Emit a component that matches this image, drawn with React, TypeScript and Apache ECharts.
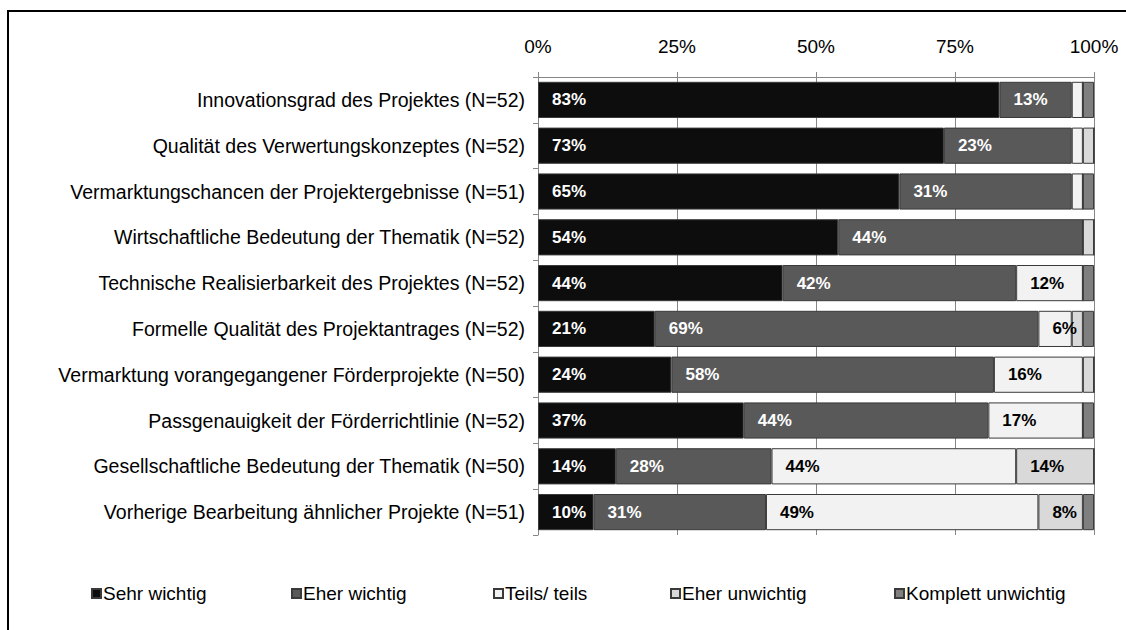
import React, { useEffect, useRef } from "react";
import * as echarts from "echarts";

const categories = [
  "Innovationsgrad des Projektes (N=52)",
  "Qualität des Verwertungskonzeptes (N=52)",
  "Vermarktungschancen der Projektergebnisse (N=51)",
  "Wirtschaftliche Bedeutung der Thematik (N=52)",
  "Technische Realisierbarkeit des Projektes (N=52)",
  "Formelle Qualität des Projektantrages (N=52)",
  "Vermarktung vorangegangener Förderprojekte (N=50)",
  "Passgenauigkeit der Förderrichtlinie (N=52)",
  "Gesellschaftliche Bedeutung der Thematik (N=50)",
  "Vorherige Bearbeitung ähnlicher Projekte (N=51)",
];

const seriesNames = ["Sehr wichtig", "Eher wichtig", "Teils/ teils", "Eher unwichtig", "Komplett unwichtig"];

const sehrWichtig = [83, 73, 65, 54, 44, 21, 24, 37, 14, 10];
const eherWichtig = [13, 23, 31, 44, 42, 69, 58, 44, 28, 31];
const teilsTeils = [2, 2, 2, 0, 12, 6, 16, 17, 44, 49];
const eherUnwichtig = [0, 2, 0, 2, 0, 2, 2, 0, 14, 8];
const komplettUnwichtig = [2, 0, 2, 0, 2, 2, 0, 2, 0, 2];

const xTicks = [0, 25, 50, 75, 100];

const colors = ["#0d0d0d", "#595959", "#f2f2f2", "#d9d9d9", "#7f7f7f"];
const labelColors = ["#ffffff", "#ffffff", "#000000", "#000000", "#ffffff"];

export default function App() {
  const ref = useRef<HTMLDivElement>(null);
  useEffect(() => {
    if (!ref.current) return;
    const chart = echarts.init(ref.current, null, { renderer: "svg" });
    const values = [sehrWichtig, eherWichtig, teilsTeils, eherUnwichtig, komplettUnwichtig];
    const font = "'Liberation Sans', Arial, sans-serif";
    const legendLefts = [86, 286, 488, 665, 889];
    chart.setOption({
      animation: false,
      backgroundColor: "#ffffff",
      textStyle: { fontFamily: font },
      grid: { left: 538, right: 32, top: 77, bottom: 95, containLabel: false },
      legend: seriesNames.map((n, i) => ({
        data: [n],
        left: legendLefts[i],
        top: 579,
        icon: "rect",
        itemWidth: 9,
        itemHeight: 9,
        itemGap: 2,
        textStyle: { fontSize: 19, color: "#000", fontFamily: font, padding: [0, 0, 0, -3] },
      })),
      xAxis: {
        type: "value",
        position: "top",
        min: xTicks[0],
        max: xTicks[xTicks.length - 1],
        interval: 25,
        axisLine: { show: true, lineStyle: { color: "#868686", width: 1 } },
        axisTick: { show: true, length: 5, lineStyle: { color: "#868686" } },
        splitLine: { show: true, lineStyle: { color: "#868686", width: 1 } },
        axisLabel: {
          formatter: (v: number) => v + "%",
          fontSize: 19,
          color: "#000",
          margin: 21,
          fontFamily: font,
        },
      },
      yAxis: {
        type: "category",
        inverse: true,
        data: categories,
        axisLine: { show: true, lineStyle: { color: "#868686", width: 1 } },
        axisTick: { show: true, length: 5, lineStyle: { color: "#868686" } },
        axisLabel: { fontSize: 19.5, color: "#000", margin: 13, fontFamily: font },
      },
      series: seriesNames.map((name, i) => ({
        name,
        type: "bar",
        stack: "total",
        barCategoryGap: "21%",
        data: values[i],
        itemStyle: { color: colors[i], borderColor: "#3a3a3a", borderWidth: 1 },
        label: {
          show: true,
          position: "insideLeft",
          distance: 14,
          fontSize: 17,
          fontWeight: "bold",
          fontFamily: font,
          color: labelColors[i],
          formatter: (p: any) => (p.value >= 5 ? p.value + "%" : ""),
        },
      })),
      graphic: [
        {
          type: "polyline",
          shape: { points: [[8, 630], [8, 11], [1126, 11]] },
          style: { stroke: "#000", lineWidth: 2, fill: "none" },
        },
      ],
    });
    return () => chart.dispose();
  }, []);
  return <div ref={ref} style={{ position: "absolute", left: 0, top: 0, width: 1126, height: 630 }} />;
}
